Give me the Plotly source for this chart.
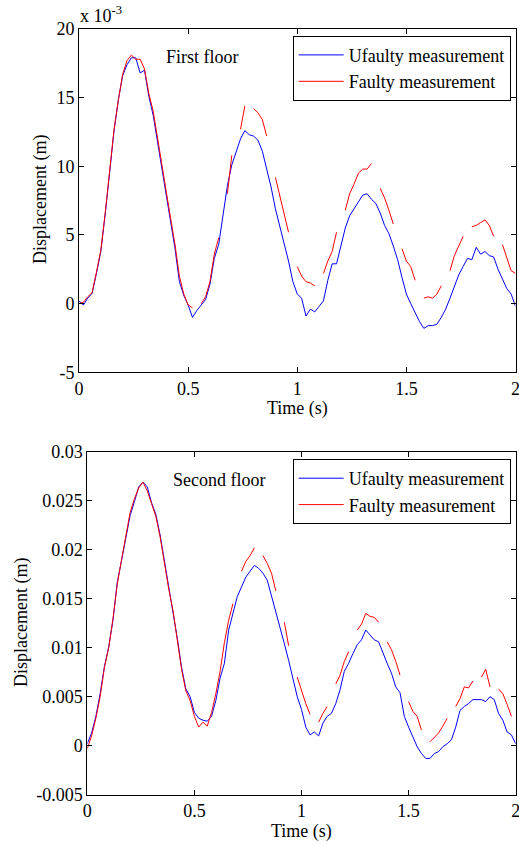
import plotly.graph_objects as go

# Time samples (s)
time = [round(i * 0.02, 2) for i in range(101)]

# First floor displacement (x 10^-3 m)
floor1_unfaulty = [
    0.2, -0.1, 0.4, 0.75, 2.2, 3.8, 6.5, 9.4, 12.5, 14.8,
    16.6, 17.4, 17.9, 17.9, 16.8, 17.0, 15.1, 13.7, 11.8, 9.9,
    7.7, 6.0, 4.0, 1.6, 0.6, -0.1, -1.0, -0.5, -0.1, 0.3,
    1.4, 3.3, 4.3, 6.5, 8.6, 10.1, 11.1, 12.0, 12.6, 12.3,
    12.2, 11.9, 11.1, 9.9, 8.5, 6.9, 5.7, 4.5, 3.1, 1.6,
    0.7, 0.4, -0.9, -0.4, -0.6, -0.2, 0.2, 1.7, 2.9, 2.9,
    4.2, 5.5, 6.4, 6.9, 7.3, 7.9, 8.0, 7.6, 7.3, 6.6,
    5.7, 5.1, 4.2, 3.2, 1.9, 0.7, 0.0, -0.7, -1.3, -1.8,
    -1.6, -1.6, -1.5, -1.0, -0.4, 0.4, 1.2, 2.1, 2.7, 3.3,
    3.2, 4.1, 3.6, 3.8, 3.5, 3.4, 2.5, 1.8, 1.1, 0.7,
    -0.2,
]
floor1_faulty = [
    0.0, 0.1, 0.5, 0.8, 2.3, 3.9, 6.6, 9.6, 12.6, 14.8,
    16.7, 17.7, 18.1, 17.8, 17.8, 17.1, 15.3, 14.0, 12.0, 10.2,
    7.9, 6.2, 4.3, 2.0, 0.7, -0.1, -0.3, None, 0.0, 0.5,
    1.6, 3.6, 4.8, None, 8.0, 10.8, None, 12.7, 14.4, None,
    14.2, 13.9, 13.4, 12.2, None, 9.2, 7.8, 6.6, 5.2, None,
    2.7, 2.0, 1.6, 1.5, 1.3, None, 2.2, 3.1, 3.8, 5.2,
    None, 6.8, 8.0, 8.7, 9.5, 9.8, 9.8, 10.2, None, 8.4,
    7.7, 6.8, 5.8, None, 4.0, 3.1, 2.7, 1.7, None, 0.4,
    0.5, 0.4, 0.7, 1.3, None, 2.4, 3.5, 4.2, 4.9, None,
    5.6, 5.7, 5.9, 6.1, 5.7, 4.9, None, 4.3, 3.3, 2.4,
    2.2,
]

# Second floor displacement (x 10^-3 m)
floor2_unfaulty = [
    0.2, 1.3, 3.0, 5.3, 8.1, 10.1, 12.8, 16.7, 18.9, 21.3,
    23.5, 24.9, 26.4, 26.9, 26.4, 24.8, 23.6, 21.5, 19.0, 16.2,
    13.6, 11.0, 8.0, 5.8, 5.0, 3.4, 2.8, 2.6, 2.5, 3.0,
    4.6, 6.9, 8.4, 11.8, 13.5, 15.2, 16.2, 17.2, 17.8, 18.4,
    18.1, 17.6, 16.9, 15.2, 13.5, 11.8, 10.4, 8.7, 7.0, 5.0,
    3.7, 1.9, 1.1, 1.4, 1.0, 2.3, 3.0, 3.3, 4.3, 5.7,
    7.6, 8.4, 9.4, 10.3, 10.8, 11.8, 11.3, 10.8, 10.6, 9.4,
    8.4, 7.4, 6.0, 5.4, 3.0, 1.9, 0.9, -0.1, -0.8, -1.3,
    -1.3, -0.8, -0.6, -0.1, 0.2, 0.6, 1.9, 3.6, 4.0, 4.3,
    4.7, 4.7, 4.7, 4.5, 5.0, 4.7, 3.3, 2.6, 1.4, 1.1,
    0.2,
]
floor2_faulty = [
    -0.3, 1.0, 2.8, 5.0, 8.0, 10.0, 13.0, 16.5, 19.0, 21.4,
    23.8, 25.2, 26.3, 26.9, 26.0, 24.7, 23.4, 21.3, 18.6, 16.0,
    13.8, 10.8, 7.8, 5.6, 4.6, 3.0, 1.9, 2.4, 2.0, 3.4,
    5.3, 7.6, 10.5, 12.8, 14.5, None, 17.8, 18.8, 19.4, 20.2,
    None, 19.4, 18.6, 17.6, 15.8, None, 12.6, 10.2, None, 7.0,
    5.6, 4.3, 3.2, None, 2.4, 3.3, 4.0, None, 6.3, 7.2,
    8.6, 9.6, None, 11.8, 12.4, 13.5, 13.2, 13.1, 12.6, None,
    10.6, 9.8, 8.6, 7.2, None, 4.5, 3.5, 3.0, 1.6, None,
    0.4, 0.8, 1.3, 2.0, 2.8, None, 4.0, 4.8, 6.0, 5.9,
    6.6, None, 7.0, 7.8, 6.0, None, 5.8, 5.3, 4.2, 3.0,
    None,
]

series_names = ["Ufaulty measurement", "Faulty measurement"]
floor_labels = ["First floor", "Second floor"]
top_yticks = [-5, 0, 5, 10, 15, 20]
top_yticklabels = ["-5", "0", "5", "10", "15", "20"]
bottom_yticks = [-0.005, 0, 0.005, 0.01, 0.015, 0.02, 0.025, 0.03]
bottom_yticklabels = ["-0.005", "0", "0.005", "0.01", "0.015", "0.02", "0.025", "0.03"]
xticks = [0, 0.5, 1, 1.5, 2]
xticklabels = ["0", "0.5", "1", "1.5", "2"]


def to_m(vals):
    return [None if v is None else v * 1e-3 for v in vals]


W, H = 519, 844
FONT = "Liberation Serif, Times New Roman, serif"
BLUE = "#0000FF"
RED = "#FF0000"

fig = go.Figure()
fig.add_trace(go.Scatter(x=time, y=floor1_unfaulty, mode="lines", name=series_names[0],
                         line=dict(color=BLUE, width=1), xaxis="x", yaxis="y", legend="legend"))
fig.add_trace(go.Scatter(x=time, y=floor1_faulty, mode="lines", name=series_names[1],
                         line=dict(color=RED, width=1), xaxis="x", yaxis="y", legend="legend"))
fig.add_trace(go.Scatter(x=time, y=to_m(floor2_unfaulty), mode="lines", name=series_names[0],
                         line=dict(color=BLUE, width=1), xaxis="x2", yaxis="y2", legend="legend2"))
fig.add_trace(go.Scatter(x=time, y=to_m(floor2_faulty), mode="lines", name=series_names[1],
                         line=dict(color=RED, width=1), xaxis="x2", yaxis="y2", legend="legend2"))

axis_common = dict(showline=True, linecolor="black", linewidth=1, mirror="allticks",
                   ticks="inside", ticklen=5, tickcolor="black", tickwidth=1,
                   showgrid=False, zeroline=False, automargin=False,
                   ticklabeloverflow="allow",
                   tickfont=dict(family=FONT, size=18, color="black"))


def px_x(p):
    return p / W


def px_y(p):
    return 1 - p / H


legend_common = dict(bgcolor="white", bordercolor="black", borderwidth=1,
                     font=dict(family=FONT, size=18, color="black"),
                     xanchor="right", yanchor="top", tracegroupgap=0,
                     xref="paper", yref="paper", itemwidth=45)

fig.update_layout(
    width=W, height=H,
    margin=dict(l=0, r=0, t=0, b=0, autoexpand=False),
    paper_bgcolor="white", plot_bgcolor="white",
    font=dict(family=FONT, size=18, color="black"),
    xaxis=dict(domain=[px_x(79), px_x(515.5)], range=[0, 2], anchor="y",
               tickvals=xticks, ticktext=xticklabels, **axis_common),
    yaxis=dict(domain=[px_y(372.3), px_y(29)], range=[-5, 20], anchor="x",
               tickvals=top_yticks, ticktext=top_yticklabels, **axis_common),
    xaxis2=dict(domain=[px_x(87.3), px_x(515.7)], range=[0, 2], anchor="y2",
                tickvals=xticks, ticktext=xticklabels, **axis_common),
    yaxis2=dict(domain=[px_y(794.7), px_y(451.7)], range=[-0.005, 0.03], anchor="x2",
                tickvals=bottom_yticks, ticktext=bottom_yticklabels, **axis_common),
    legend=dict(x=px_x(510.7), y=px_y(35.7), **legend_common),
    legend2=dict(x=px_x(510.7), y=px_y(459), **legend_common),
    showlegend=True,
)

ann_font = dict(family=FONT, size=18, color="black")
annotations = [
    dict(text="x 10<sup>-3</sup>", x=px_x(78), y=px_y(28), xanchor="left", yanchor="bottom"),
    dict(text=floor_labels[0], x=px_x(164), y=px_y(57), xanchor="left", yanchor="middle"),
    dict(text=floor_labels[1], x=px_x(171), y=px_y(480), xanchor="left", yanchor="middle"),
    dict(text="Displacement (m)", x=px_x(40), y=px_y(200), xanchor="center", yanchor="middle", textangle=-90),
    dict(text="Displacement (m)", x=px_x(21), y=px_y(623), xanchor="center", yanchor="middle", textangle=-90),
    dict(text="Time (s)", x=px_x(297), y=px_y(408), xanchor="center", yanchor="middle"),
    dict(text="Time (s)", x=px_x(301), y=px_y(831), xanchor="center", yanchor="middle"),
]
for a in annotations:
    fig.add_annotation(xref="paper", yref="paper", showarrow=False, font=ann_font, **a)

fig.write_html("out.html", config={"displayModeBar": False},
               post_script="document.body.style.margin='0px';")
